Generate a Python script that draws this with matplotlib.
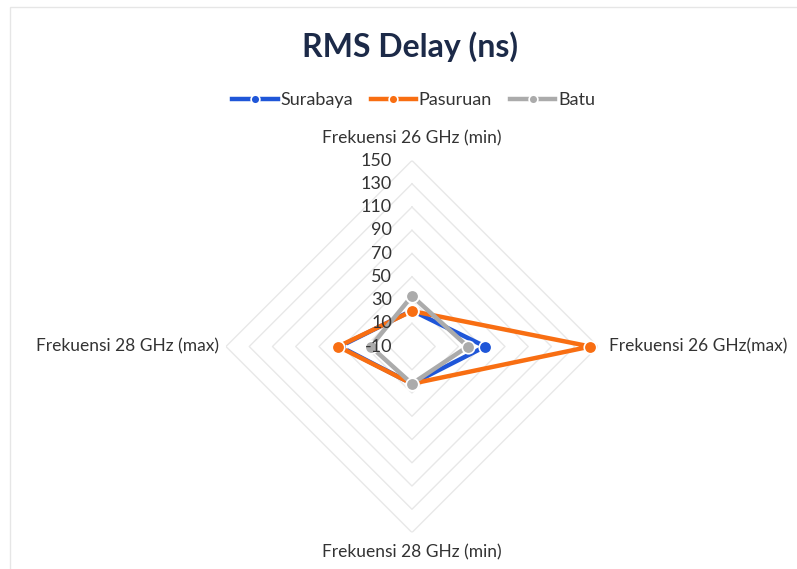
import numpy as np
import matplotlib
matplotlib.use('Agg')
from matplotlib import pyplot as plt
from matplotlib.patches import Rectangle

plt.rcParams['font.family'] = ['Lato', 'DejaVu Sans']

# data
categories = ['Frekuensi 26 GHz (min)', 'Frekuensi 26 GHz(max)',
              'Frekuensi 28 GHz (min)', 'Frekuensi 28 GHz (max)']
surabaya = [21, 53, 22, 52]
pasuruan = [20.5, 143.5, 22, 53.5]
batu = [33.5, 38, 22, 25.5]
series_names = ['Surabaya', 'Pasuruan', 'Batu']
ticks = [-10, 10, 30, 50, 70, 90, 110, 130, 150]

colors = ['#1f56d8', '#f86e12', '#ababab']
text_col = '#333333'


def main():
    fig = plt.figure(figsize=(7.97, 5.69), dpi=100)
    fig.patches.append(Rectangle((0.012, -0.01), 1.0, 0.997, transform=fig.transFigure,
                                 fill=False, edgecolor='#e6e6e6', linewidth=1))

    ax = fig.add_axes([0.2835, 0.0641, 0.4668, 0.6538], projection='polar')
    ax.set_theta_zero_location('N')
    ax.set_theta_direction(-1)
    ax.set_ylim(ticks[0], ticks[-1])
    ax.grid(False)
    ax.spines['polar'].set_visible(False)
    ax.set_xticks([])
    ax.set_yticks([])
    ax.patch.set_alpha(0)

    theta = np.arange(len(categories)) * np.pi / 2
    theta_c = np.append(theta, theta[0])

    # diamond gridlines
    for t in ticks[1:]:
        ax.plot(theta_c, [t] * 5, color='#e8e8e8', linewidth=1, zorder=1)

    for vals, name, c in zip([surabaya, pasuruan, batu], series_names, colors):
        v = np.append(vals, vals[0])
        ax.plot(theta_c, v, color=c, linewidth=3.2, marker='o', markersize=9,
                markerfacecolor=c, markeredgecolor='white', markeredgewidth=1.2,
                label=name, zorder=3, clip_on=False)

    # radial tick labels (drawn above the series, like Excel)
    for t in ticks:
        ax.annotate(str(t), (0, t), xytext=(-20, 0), textcoords='offset pixels',
                    ha='right', va='center', fontsize=13, color=text_col,
                    annotation_clip=False, zorder=6)

    # category labels
    offs = [(0, 22, 'center', 'center'), (11, 0, 'left', 'center'),
            (0, -20, 'center', 'center'), (-7, 0, 'right', 'center')]
    for th, lab, (dx, dy, ha, va) in zip(theta, categories, offs):
        ax.annotate(lab, (th, ticks[-1]), xytext=(dx, dy), textcoords='offset pixels',
                    ha=ha, va=va, fontsize=12.5, color=text_col, annotation_clip=False)

    fig.text(0.515, 0.918, 'RMS Delay (ns)', ha='center', va='center',
             fontsize=23, fontweight='bold', color='#1c2a48')
    fig.legend(loc='center', bbox_to_anchor=(0.519, 0.824), ncol=3, frameon=False,
               fontsize=13, handlelength=2.5, handletextpad=0.15, columnspacing=1.0,
               labelcolor=text_col, markerscale=0.7)

    fig.savefig('out.png', dpi=100)


if __name__ == '__main__':
    main()
